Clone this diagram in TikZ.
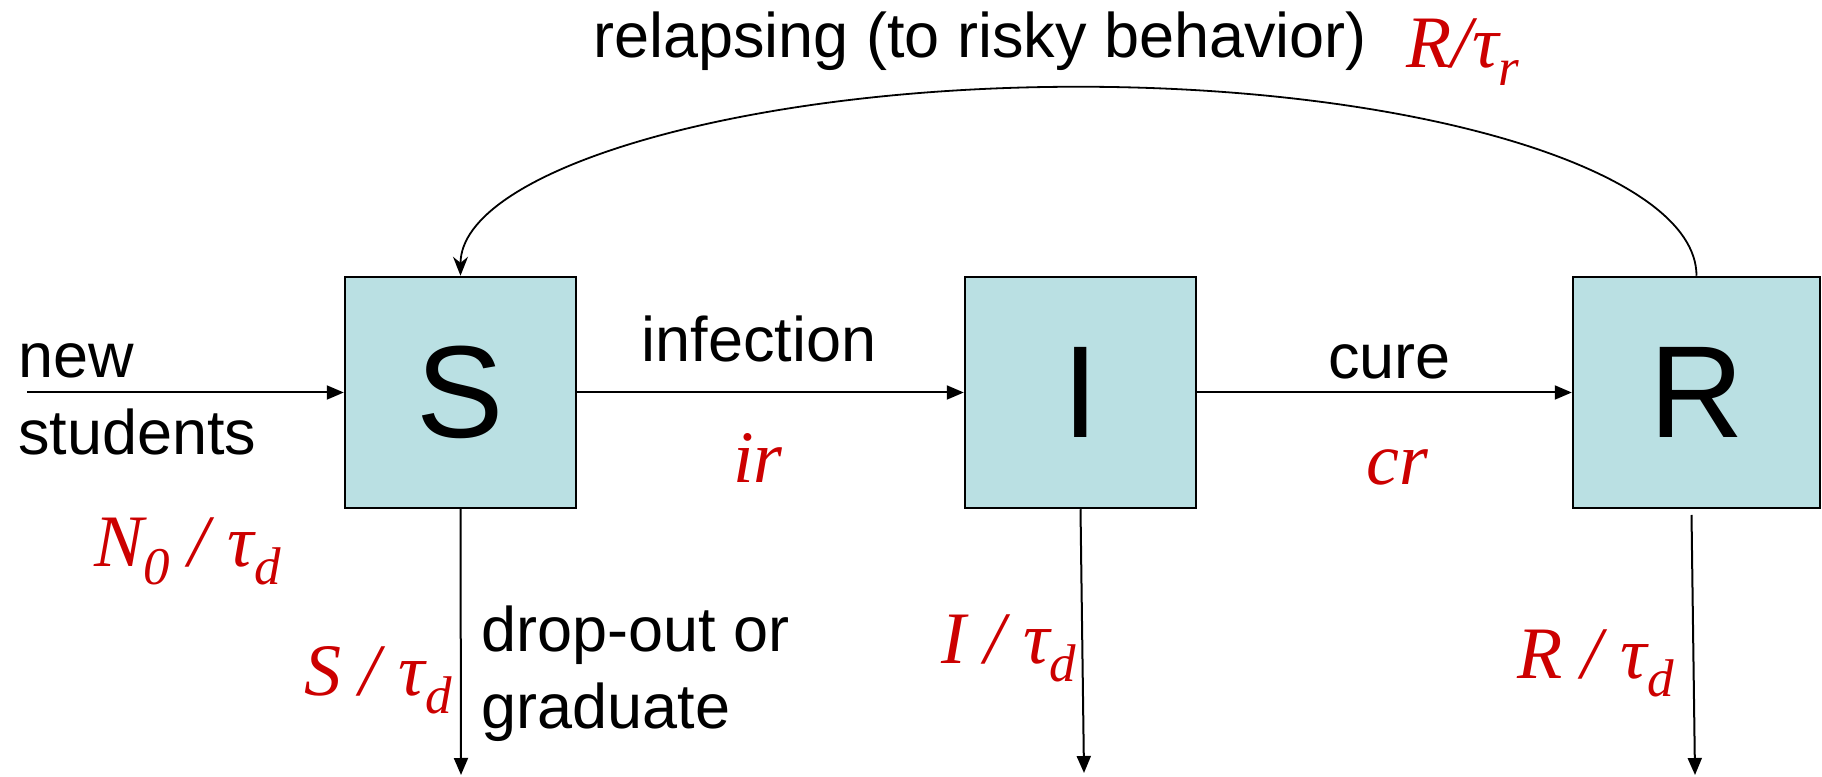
\documentclass[tikz,border=0pt]{standalone}
\usepackage{fontspec}
\setmainfont{Liberation Sans}
\newfontfamily\serifit{Liberation Serif}
\usetikzlibrary{arrows.meta}
\definecolor{boxfill}{RGB}{186,224,227}
\definecolor{ratered}{RGB}{204,0,0}
% red italic rate expressions with lowered subscripts
\newcommand\rate[1]{{\serifit\itshape\fontsize{74}{74}\selectfont #1}}
\newcommand\lsub[1]{\raisebox{-18pt}{\fontsize{53}{53}\selectfont #1}}
\begin{document}
\begin{tikzpicture}[x=1pt,y=1pt,
  compartment/.style={draw=black,line width=2.5pt,fill=boxfill,inner sep=0pt,
    minimum height=231pt,font=\fontsize{131}{131}\selectfont},
  flow/.style={line width=2pt,-{Triangle[length=17pt,width=14pt]}},
  lbl/.style={inner sep=0pt,anchor=base west,font=\fontsize{63}{77}\selectfont},
  ratelbl/.style={inner sep=0pt,anchor=base west,text=ratered}]
\useasboundingbox (0,0) rectangle (1822,776);

% compartments
\node[compartment,minimum width=231pt] (S) at (460.5,383.5) {S};
\node[compartment,minimum width=231pt] (I) at (1080.5,383.5) {I};
\node[compartment,minimum width=247pt] (R) at (1696.5,383.5) {R};

% free ends of the inflow and outflows
\coordinate (newin) at (27,383.5);
\coordinate (sout) at (461,1);
\coordinate (iout) at (1084,3);
\coordinate (rtop) at (1691.5,261);
\coordinate (rout) at (1695,1);

% flows
\draw[flow] (newin) -- (S.west);
\draw[flow] (S.east) -- (I.west);
\draw[flow] (I.east) -- (R.west);
\draw[flow] (S.south) -- (sout);
\draw[flow] (I.south) -- (iout);
\draw[flow] (rtop) -- (rout);
\draw[line width=1.8pt,-{Stealth[length=19pt,width=15pt]}]
  (R.north) arc[start angle=0,end angle=180,x radius=618pt,y radius=189pt];

% text labels (multi-line nodes are placed at their last baseline)
\node[lbl] (relapse) at (593,718) {relapsing (to risky behavior)};
\node[lbl,align=left] (newst) at (18,321) {new\\students};
\node[lbl] (infect) at (641.7,414.3) {infection};
\node[lbl] (cure) at (1328,397.5) {cure};
\node[lbl,align=left] (drop) at (481.5,48) {drop-out or\\graduate};

% rate labels
\node[ratelbl] (rrel) at (1406,708) {\rate{R/τ\lsub{r}}};
\node[ratelbl] (rir) at (733,293) {\rate{ir}};
\node[ratelbl] (rcr) at (1366,291) {\rate{cr}};
\node[ratelbl] (rnew) at (94,209) {\rate{N\lsub{0} / τ\lsub{d}}};
\node[ratelbl] (rsd) at (304,80) {\rate{S / τ\lsub{d}}};
\node[ratelbl] (rid) at (941,112) {\rate{I / τ\lsub{d}}};
\node[ratelbl] (rrd) at (1517.6,97) {\rate{R / τ\lsub{d}}};
\end{tikzpicture}
\end{document}
